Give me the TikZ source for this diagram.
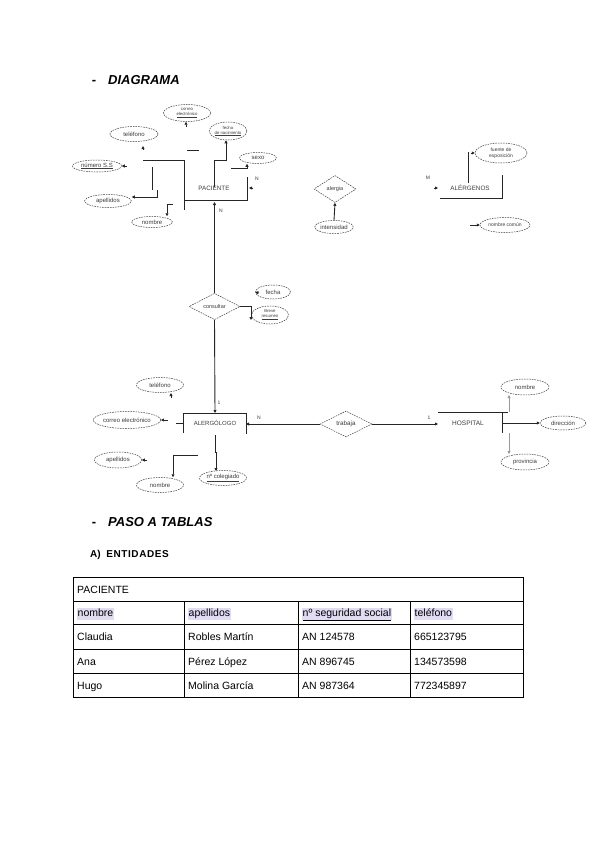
\documentclass[tikz,border=0pt]{standalone}
\usepackage{fontspec}
\setmainfont{Liberation Sans}
\usetikzlibrary{shapes.geometric,arrows.meta}
\definecolor{hl}{RGB}{226,220,242}
\definecolor{ink}{RGB}{60,60,60}
\begin{document}
\begin{tikzpicture}[x=1pt,y=-1pt,
  attr/.style={ellipse,draw=ink,dash pattern=on 1.6pt off 1pt,line width=0.5pt,inner sep=0pt,text=ink,align=center,font=\fontsize{6}{6.5}\selectfont},
  tiny/.style={font=\fontsize{4.3}{5}\selectfont},
  rel/.style={diamond,draw=ink,dash pattern=on 1.6pt off 1pt,line width=0.5pt,inner sep=0pt,text=ink,font=\fontsize{5.5}{6}\selectfont},
  ent/.style={inner sep=0pt,text=ink,font=\fontsize{6.3}{7}\selectfont},
  lbl/.style={inner sep=0pt,text=ink,font=\fontsize{5}{6}\selectfont},
  ln/.style={draw=black!85,line width=0.9pt},
  lg/.style={draw=black!40,line width=0.8pt},
  arr/.style={-{Triangle[length=3pt,width=3pt]}},
  arrs/.style={{Triangle[length=3pt,width=3pt]}-},
  head/.style={inner sep=0pt,anchor=base west,font=\fontsize{13}{15}\bfseries\itshape\selectfont},
  dashh/.style={inner sep=0pt,anchor=base,font=\fontsize{13}{15}\bfseries\selectfont},
  cell/.style={inner sep=0pt,anchor=base west,font=\fontsize{10.5}{12}\selectfont},
  hcell/.style={cell,fill=hl,inner ysep=1pt,inner xsep=0.5pt,text height=8pt,text depth=2.2pt}]
\useasboundingbox (0,0) rectangle (600,848);
\fill[white] (0,0) rectangle (600,848);

% heading
\node[dashh] (d1) at (94,85) {-};
\node[head] (h1) at (108,85) {DIAGRAMA};

% ---------- PACIENTE ----------
\node[attr,tiny,minimum width=47,minimum height=17] (pcorreo) at (187,113) {correo\\\underline{electrónico}};
\node[attr,minimum width=48,minimum height=15] (ptel) at (134,134) {teléfono};
\node[attr,tiny,minimum width=37,minimum height=18] (pfecha) at (228,131) {fecha\\\underline{de nacimiento}};
\node[attr,minimum width=37,minimum height=11] (psexo) at (258,158) {sexo};
\node[attr,minimum width=49,minimum height=12] (pnss) at (97,166) {\underline{número S.S}};
\node[attr,minimum width=47,minimum height=13] (pape) at (108,201) {apellidos};
\node[attr,minimum width=41,minimum height=11] (pnom) at (152,222) {nombre};
\node[ent] (pac) at (214,188) {PACIENTE};

\coordinate (p1) at (143,160); \coordinate (p2) at (184,160); \coordinate (p3) at (184,210);
\draw[ln] (p1) -- (p2) -- (p3);
\coordinate (p4) at (184,200); \coordinate (p5) at (247,200); \coordinate (p6) at (247,177);
\draw[ln] (p4) -- (p5) -- (p6);
\coordinate (p7) at (152,167); \coordinate (p8) at (152,190);
\draw[ln] (p7) -- (p8);
\coordinate (p9) at (157,190); \coordinate (p10) at (157,197);
\draw[ln,arr] (p9) -- (p10) -- (pape.east |- p10);
\coordinate (p11) at (173,204); \coordinate (p12) at (167,204);
\draw[ln,arr] (p11) -- (p12) -- (p12 |- pnom.north);
\coordinate (p13) at (214,187); \coordinate (p14) at (214,160); \coordinate (p15) at (226,160);
\draw[ln,arr] (p13) -- (p14) -- (p15) -- (p15 |- pfecha.south);
\coordinate (p16) at (231,168); \coordinate (p17) at (247,168);
\draw[ln,arr] (p16) -- (p17) -- (p17 |- psexo.south);
\coordinate (p18) at (187,150); \coordinate (p19) at (199,150);
\draw[ln] (p18) -- (p19);
\coordinate (t1) at (186,127);
\draw[ln,arr] (t1) -- (t1 |- pcorreo.south);
\coordinate (t2) at (143,150);
\draw[ln,arr] (t2) -- (143,146);
\coordinate (t3) at (127,166);
\draw[ln,arr] (t3) -- (pnss.east);
\coordinate (t4) at (253,188);
\draw[ln,arr] (t4) -- (249,188);
\node[lbl] (n1) at (257,179) {N};
\node[lbl] (n2) at (221,211) {N};

% ---------- consultar ----------
\node[rel,minimum width=51,minimum height=25] (cons) at (214.5,306.5) {consultar};
\coordinate (c0) at (214.5,202);
\draw[ln,arrs] (c0) -- (cons.north);
\node[attr,minimum width=35,minimum height=14] (cfecha) at (273,292) {fecha};
\node[attr,tiny,minimum width=37,minimum height=18] (cbreve) at (270,315) {Breve\\\underline{resumen}};
\coordinate (c1) at (251,306.5);
\draw[ln,arr] (cons.east) -- (c1) -- (251,320);
\coordinate (c2) at (259,293);
\draw[ln,arr] (c2) -- (cfecha.west);

% ---------- ALERGÓLOGO ----------
\node[ent,font=\fontsize{6}{7}\selectfont] (alg) at (215,423) {ALERGÓLOGO};
\coordinate (a1) at (183,433); \coordinate (a2) at (183,413); \coordinate (a3) at (246,413); \coordinate (a4) at (246,434);
\draw[ln] (a1) -- (a2) -- (a3) -- (a4);
\draw[ln,arr] (cons.south) -- (215,413);
\node[lbl] (n3) at (219,403) {1};
\node[attr,minimum width=57,minimum height=17] (acorreo) at (127,420) {correo electrónico};
\node[attr,minimum width=47,minimum height=15] (atel) at (160,385) {teléfono};
\node[attr,minimum width=47,minimum height=16] (aape) at (118,460) {apellidos};
\node[attr,minimum width=47,minimum height=15] (anom) at (160,485) {nombre};
\node[attr,minimum width=47,minimum height=15] (acol) at (223,478) {\underline{nº colegiado}};
\coordinate (a5) at (168,420);
\draw[ln,arr] (a5) -- (acorreo.east);
\coordinate (a6) at (176,423);
\draw[ln] (a6) -- (a1 |- a6);
\coordinate (a7) at (171,398);
\draw[ln,arr] (a7) -- (171,393);
\coordinate (a8) at (147,460);
\draw[ln,arr] (a8) -- (aape.east);
\coordinate (a9) at (198,455); \coordinate (a10) at (173,455);
\draw[ln,arr] (a9) -- (a10) -- (a10 |- anom.north);
\coordinate (a11) at (215,435); \coordinate (a12) at (215,452); \coordinate (a13) at (216,452);
\draw[ln,arr] (a11) -- (a12) -- (a13) -- (216,471);

% ---------- trabaja / HOSPITAL ----------
\node[rel,minimum width=52,minimum height=26,font=\fontsize{6.3}{7}\selectfont] (trab) at (346,424) {trabaja};
\draw[ln,arr] (trab.west) -- (a4 |- trab.west);
\node[lbl] (n4) at (259,418) {N};
\coordinate (h0) at (438,424);
\draw[ln,arr] (trab.east) -- (h0);
\node[lbl] (n5) at (429,418) {1};
\node[ent,font=\fontsize{6.5}{7}\selectfont] (hosp) at (468,423) {HOSPITAL};
\coordinate (h1a) at (438,412); \coordinate (h2) at (508,412);
\draw[ln] (h1a) -- (h2);
\coordinate (h3) at (502,412); \coordinate (h4) at (502,433);
\draw[ln] (h3) -- (h4);
\node[attr,minimum width=46,minimum height=14] (hdir) at (563,423) {dirección};
\node[attr,minimum width=48,minimum height=16] (hnom) at (525,387) {nombre};
\node[attr,minimum width=48,minimum height=16] (hprov) at (525,462) {provincia};
\coordinate (h5) at (502,423);
\draw[ln,arr] (h5) -- (hdir.west);
\coordinate (h6) at (509,412); \coordinate (h7) at (509,433);
\draw[lg,arr] (h6) -- (509,395);
\draw[lg,arr] (h7) -- (509,454);

% ---------- alergia ----------
\node[rel,minimum width=42,minimum height=27] (aler) at (335,189) {alergia};
\node[attr,minimum width=38,minimum height=13] (inten) at (334,227) {intensidad};
\draw[ln,arr] (inten.north) -- (aler.south);

% ---------- ALÉRGENOS ----------
\node[ent] (alerg) at (470,188) {ALÉRGENOS};
\node[lbl] (m1) at (428,178) {M};
\coordinate (g0) at (434,188);
\draw[ln,arr] (g0) -- (438,188);
\coordinate (g1) at (440,198); \coordinate (g2) at (502,198); \coordinate (g3) at (502,175);
\draw[ln] (g1) -- (g2) -- (g3);
\coordinate (g4) at (468,183); \coordinate (g5) at (468,152);
\draw[ln] (g4) -- (g5);
\node[attr,tiny,font=\fontsize{5}{5.8}\selectfont,minimum width=52,minimum height=20] (fuente) at (501,153) {fuente de\\exposición};
\coordinate (g6) at (471,153);
\draw[ln,arr] (g6) -- (fuente.west);
\node[attr,font=\fontsize{5}{6}\selectfont,minimum width=50,minimum height=15] (ncom) at (505,225) {nombre común};
\coordinate (g7) at (470,225);
\draw[ln,arr] (g7) -- (ncom.west);

% ---------- PASO A TABLAS ----------
\node[dashh] (d2) at (94,526) {-};
\node[head] (h2t) at (108,526) {PASO A TABLAS};
\node[inner sep=0pt,anchor=base west,font=\fontsize{10}{12}\bfseries\selectfont] (ent) at (90,557) {A)\ \ E\hspace{0.6pt}N\hspace{0.6pt}T\hspace{0.6pt}I\hspace{0.6pt}D\hspace{0.6pt}A\hspace{0.6pt}D\hspace{0.6pt}E\hspace{0.6pt}S};

% table
\draw[line width=1pt] (73,577) rectangle (523,697);
\foreach \yy in {601,624,649,673} \draw[line width=1pt] (73,\yy) -- (523,\yy);
\foreach \xx in {184,298,410} \draw[line width=1pt] (\xx,601) -- (\xx,697);
\node[cell] (r0) at (77,593) {PACIENTE};
\node[hcell] (c11) at (77,616.5) {nombre};
\node[hcell] (c12) at (188,616.5) {apellidos};
\node[hcell] (c13) at (302,616.5) {\underline{nº seguridad social}};
\node[hcell] (c14) at (414,616.5) {teléfono};
\node[cell] (c21) at (77,640.5) {Claudia};
\node[cell] (c22) at (188,640.5) {Robles Martín};
\node[cell] (c23) at (302,640.5) {AN 124578};
\node[cell] (c24) at (414,640.5) {665123795};
\node[cell] (c31) at (77,665) {Ana};
\node[cell] (c32) at (188,665) {Pérez López};
\node[cell] (c33) at (302,665) {AN 896745};
\node[cell] (c34) at (414,665) {134573598};
\node[cell] (c41) at (77,689) {Hugo};
\node[cell] (c42) at (188,689) {Molina García};
\node[cell] (c43) at (302,689) {AN 987364};
\node[cell] (c44) at (414,689) {772345897};
\end{tikzpicture}
\end{document}
